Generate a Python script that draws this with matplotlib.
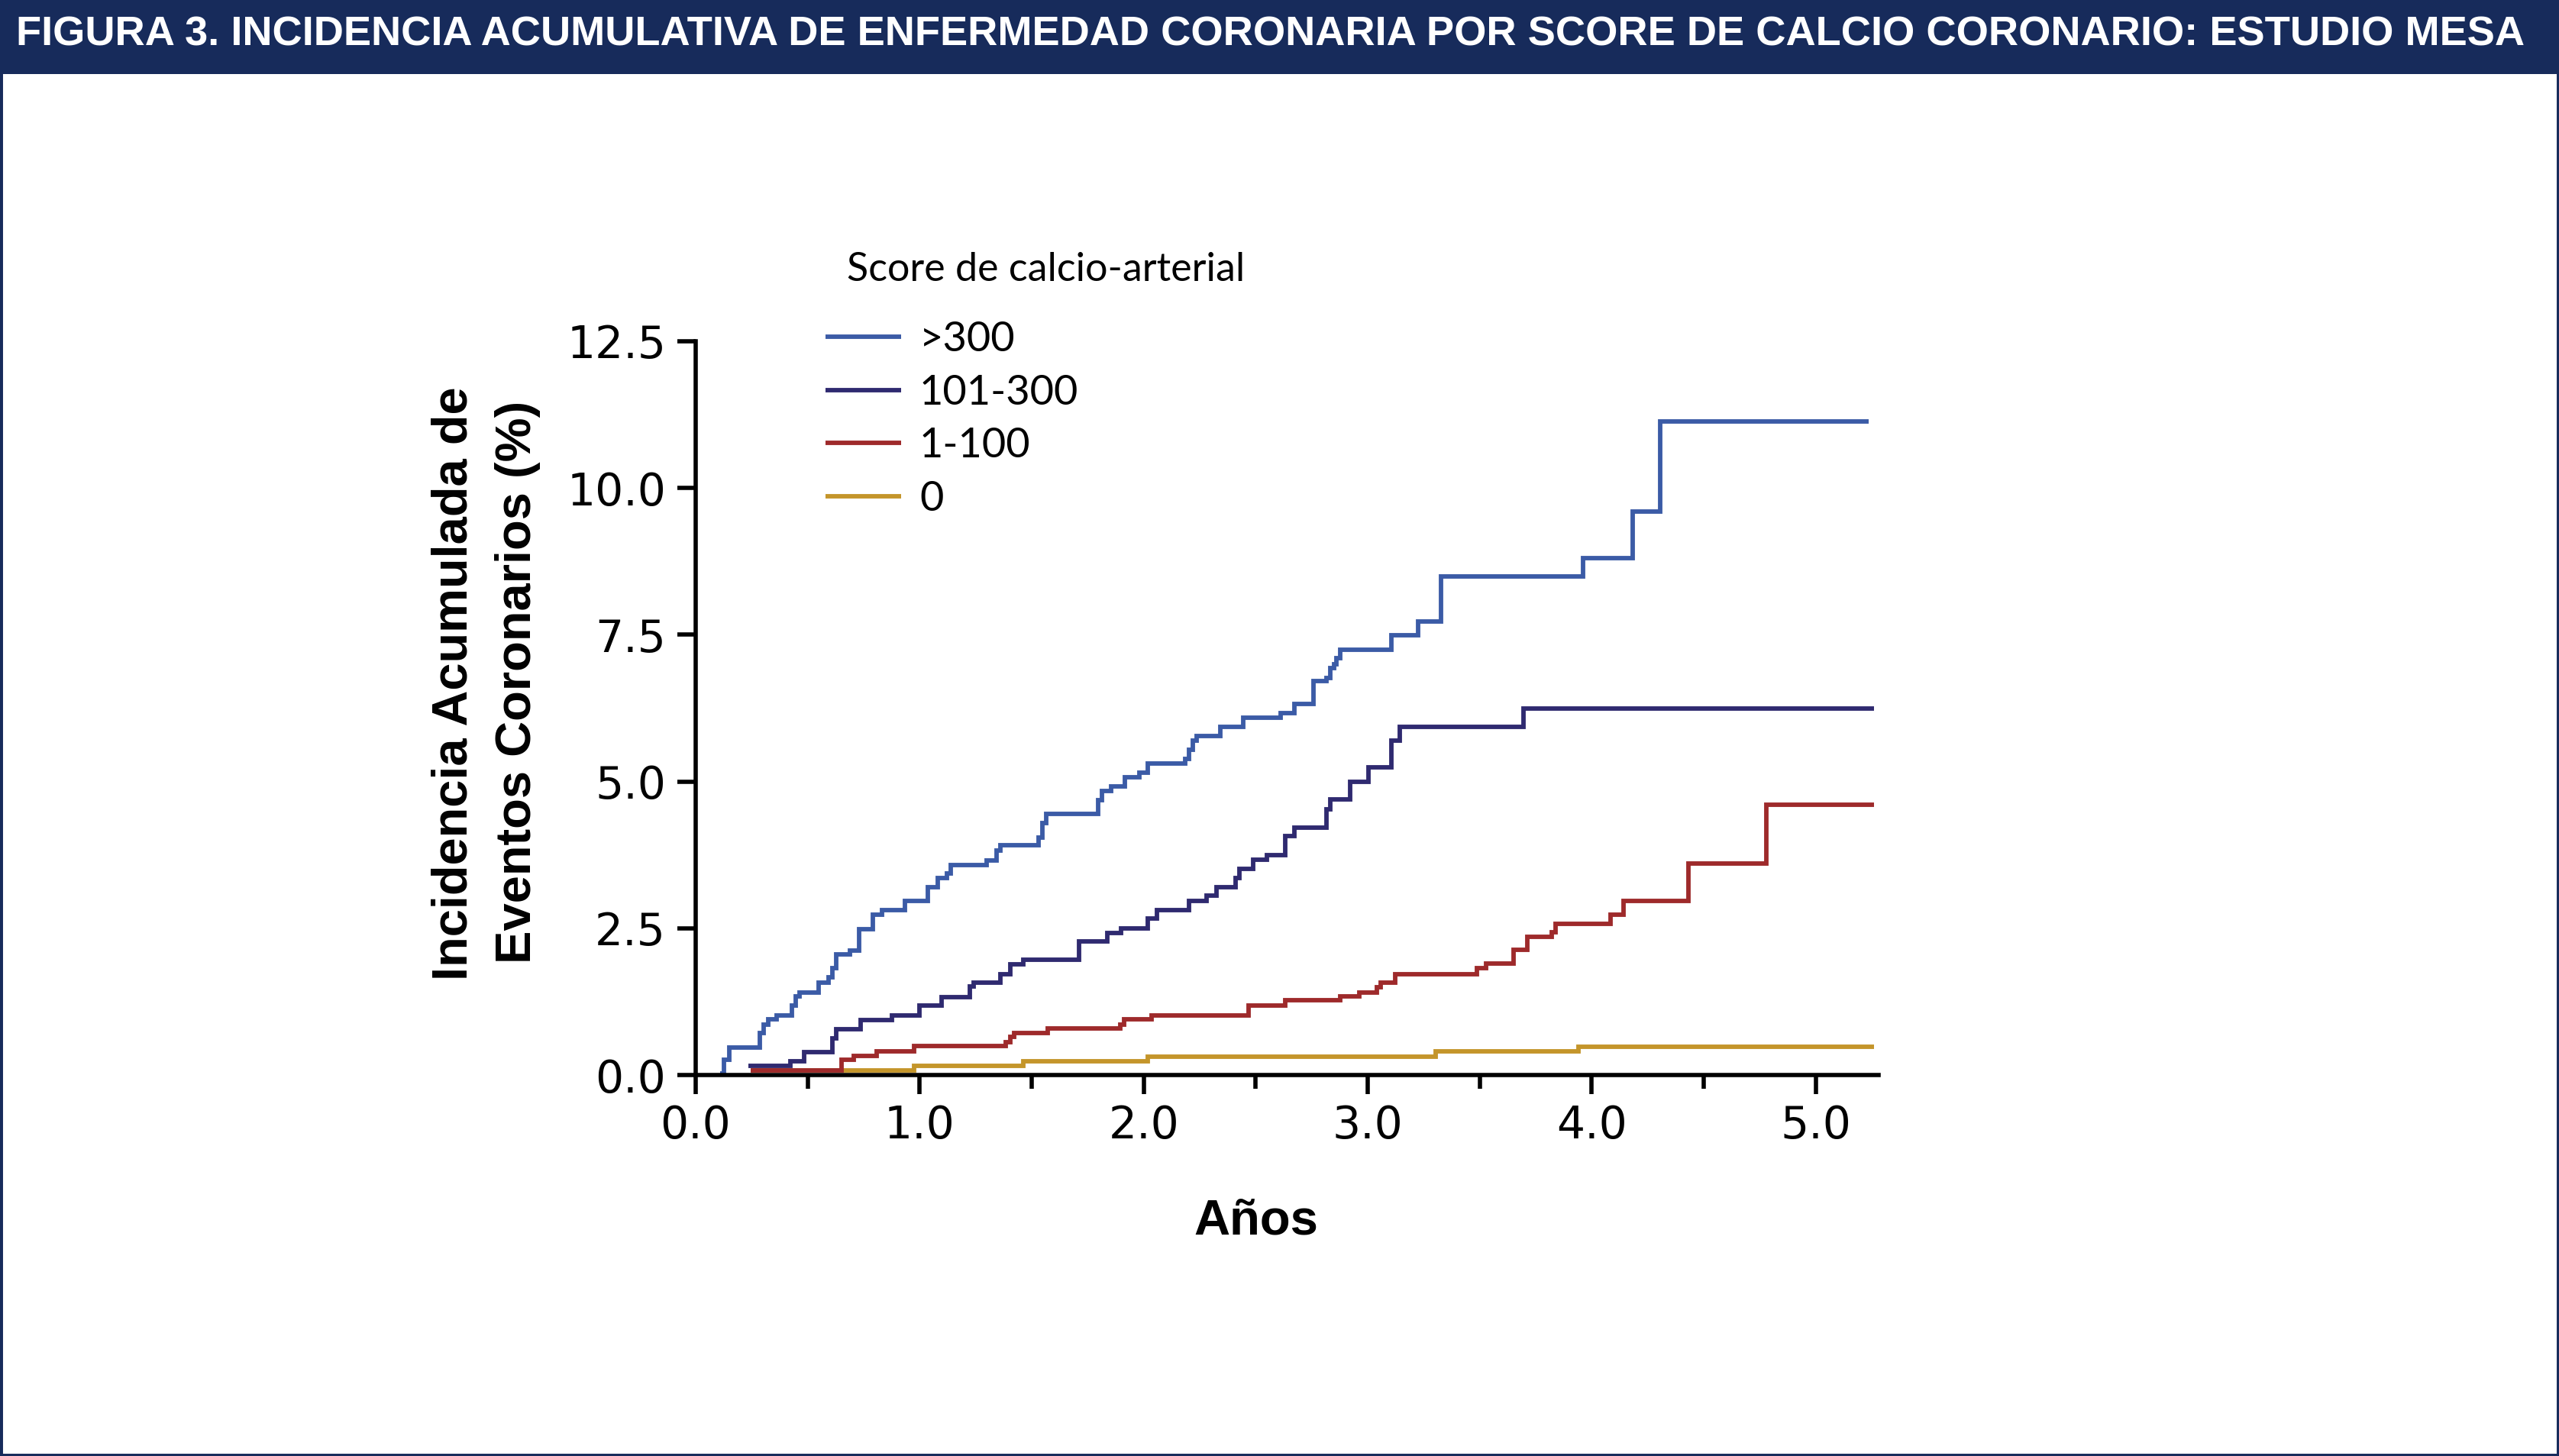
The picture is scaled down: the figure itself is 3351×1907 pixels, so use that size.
"""Incidencia acumulada de eventos coronarios por score de calcio (MESA)"""
import matplotlib
matplotlib.use('Agg')
import matplotlib.pyplot as plt
from matplotlib.patches import Rectangle

# años y % acumulado en cada escalon (curvas Kaplan-Meier)
years_300 = [0.11, 0.127, 0.150, 0.286, 0.303, 0.324, 0.360, 0.428, 0.445, 0.462,
             0.548, 0.593, 0.610, 0.627, 0.690, 0.729, 0.792, 0.832, 0.934, 1.036,
             1.082, 1.121, 1.138, 1.297, 1.343, 1.360, 1.530, 1.547, 1.564, 1.797,
             1.814, 1.854, 1.917, 1.979, 2.019, 2.184, 2.201, 2.218, 2.235, 2.343,
             2.445, 2.610, 2.672, 2.757, 2.814, 2.831, 2.848, 2.860, 2.877, 3.104,
             3.223, 3.326, 3.960, 4.182, 4.306, 5.236]
inc_300 = [0.03, 0.26, 0.47, 0.71, 0.86, 0.95, 1.02, 1.19, 1.34, 1.41,
           1.58, 1.66, 1.82, 2.05, 2.12, 2.49, 2.73, 2.81, 2.96, 3.20,
           3.36, 3.44, 3.58, 3.66, 3.83, 3.91, 4.05, 4.29, 4.45, 4.68,
           4.84, 4.92, 5.07, 5.15, 5.31, 5.39, 5.54, 5.70, 5.77, 5.93,
           6.09, 6.17, 6.32, 6.71, 6.76, 6.93, 7.00, 7.10, 7.25, 7.49,
           7.72, 8.50, 8.81, 9.60, 11.14, 11.14]

years_101 = [0.235, 0.423, 0.485, 0.610, 0.627, 0.735, 0.877, 0.999, 1.099, 1.224,
             1.241, 1.360, 1.403, 1.464, 1.712, 1.837, 1.900, 2.019, 2.059, 2.201,
             2.280, 2.323, 2.411, 2.428, 2.490, 2.551, 2.632, 2.672, 2.816, 2.831,
             2.920, 3.002, 3.104, 3.144, 3.694, 5.258]
inc_101 = [0.16, 0.23, 0.39, 0.62, 0.78, 0.94, 1.01, 1.18, 1.33, 1.51,
           1.58, 1.72, 1.88, 1.97, 2.27, 2.42, 2.50, 2.66, 2.81, 2.97,
           3.06, 3.20, 3.35, 3.51, 3.67, 3.75, 4.07, 4.22, 4.53, 4.69,
           5.00, 5.24, 5.70, 5.93, 6.24, 6.24]

years_1 = [0.247, 0.650, 0.707, 0.809, 0.974, 1.383, 1.405, 1.422, 1.570, 1.894,
           1.911, 2.036, 2.468, 2.632, 2.877, 2.962, 3.041, 3.058, 3.121, 3.488,
           3.527, 3.651, 3.713, 3.821, 3.838, 4.082, 4.143, 4.430, 4.780, 5.258]
inc_1 = [0.08, 0.26, 0.33, 0.40, 0.49, 0.56, 0.65, 0.71, 0.79, 0.86,
         0.95, 1.02, 1.19, 1.27, 1.34, 1.41, 1.49, 1.58, 1.72, 1.82,
         1.90, 2.13, 2.35, 2.43, 2.57, 2.73, 2.97, 3.60, 4.61, 4.61]

years_0 = [0.25, 0.974, 1.462, 2.019, 3.303, 3.941, 5.258]
inc_0 = [0.08, 0.16, 0.23, 0.31, 0.40, 0.48, 0.48]

labels = ['>300', '101-300', '1-100', '0']
colors = ['#3b5ba6', '#2f2a70', '#9e2a2b', '#c4952a']
x_ticks = [0, 1, 2, 3, 4, 5]
x_minor = [0.5, 1.5, 2.5, 3.5, 4.5]
y_ticks = [0, 2.5, 5, 7.5, 10, 12.5]

title = ('FIGURA 3. INCIDENCIA ACUMULATIVA DE ENFERMEDAD CORONARIA POR SCORE '
         'DE CALCIO CORONARIO: ESTUDIO MESA')

NAVY = '#172b5b'
NARROW = ['Liberation Sans Narrow', 'Liberation Sans']
W, H = 3351, 1907


def fit_text(fig, txt, length_px):
    """Scales the font so the text spans length_px pixels"""
    fig.canvas.draw()
    bb = txt.get_window_extent(fig.canvas.get_renderer())
    size = bb.height if txt.get_rotation() == 90 else bb.width
    txt.set_fontsize(txt.get_fontsize() * length_px / size)


fig = plt.figure(figsize=(W / 100, H / 100), dpi=100)
fig.patch.set_facecolor('white')

# banda del titulo y marco
fig.add_artist(Rectangle((0, 1 - 97 / H), 1, 97 / H, transform=fig.transFigure,
                         facecolor=NAVY, edgecolor='none'))
fig.add_artist(Rectangle((0, 0), 1, 1, transform=fig.transFigure, fill=False,
                         edgecolor=NAVY, linewidth=5))
head = fig.text(21 / W, 1 - 46 / H, title, color='white', fontsize=44,
                fontweight='bold', family=NARROW, ha='left', va='center')

ax = fig.add_axes([911 / W, 499 / H, 1549 / W, 961 / H])

series = [(years_0, inc_0), (years_1, inc_1), (years_101, inc_101), (years_300, inc_300)]
handles = []
for (xs, ys), lab, col in zip(series, labels[::-1], colors[::-1]):
    line, = ax.step(xs, ys, where='post', color=col, linewidth=4.2,
                    solid_capstyle='butt', solid_joinstyle='miter', label=lab)
    handles.append(line)

ax.set_xlim(0, 5.28)
ax.set_ylim(0, 12.5)
ax.set_xticks(x_ticks)
ax.set_xticklabels([f'{v:.1f}' for v in x_ticks])
ax.set_xticks(x_minor, minor=True)
ax.set_yticks(y_ticks)
ax.set_yticklabels([f'{v:.1f}' for v in y_ticks])
ax.spines[['top', 'right']].set_visible(False)
for side in ['left', 'bottom']:
    ax.spines[side].set_linewidth(4)
ax.tick_params(axis='both', which='both', direction='out', width=4, color='black',
               labelsize=42, labelfontfamily='DejaVu Sans')
ax.tick_params(axis='y', which='major', length=17, pad=11)
ax.tick_params(axis='x', which='major', length=18, pad=9)
ax.tick_params(axis='x', which='minor', length=13)

ax.set_xlabel('Años', fontsize=47, fontweight='bold', family=NARROW)
ax.xaxis.label.set_va('center')
ax.xaxis.set_label_coords(2.5 / 5.28, -0.1997)

ylab1 = fig.text(595 / W, 1 - 895 / H, 'Incidencia Acumulada de', rotation=90,
                 fontsize=50, fontweight='bold', family=NARROW, ha='center', va='center')
ylab2 = fig.text(678 / W, 1 - 893 / H, 'Eventos Coronarios (%)', rotation=90,
                 fontsize=50, fontweight='bold', family=NARROW, ha='center', va='center')

leg_title = fig.text(1109 / W, 1 - 368 / H, 'Score de calcio-arterial', fontsize=38,
                     family='Lato', ha='left', va='baseline')
ax.legend(handles[::-1], labels, loc='upper left',
          bbox_to_anchor=(1081 / W, 1 - 420 / H), bbox_transform=fig.transFigure,
          frameon=False, borderpad=0, borderaxespad=0, handlelength=1.82,
          handletextpad=0.45, labelspacing=0.38, prop={'family': 'Lato', 'size': 39})

fit_text(fig, head, 3288)
fit_text(fig, ylab1, 780)
ylab2.set_fontsize(ylab1.get_fontsize())
fit_text(fig, leg_title, 522)

fig.savefig('out.png', dpi=100, facecolor='white')
